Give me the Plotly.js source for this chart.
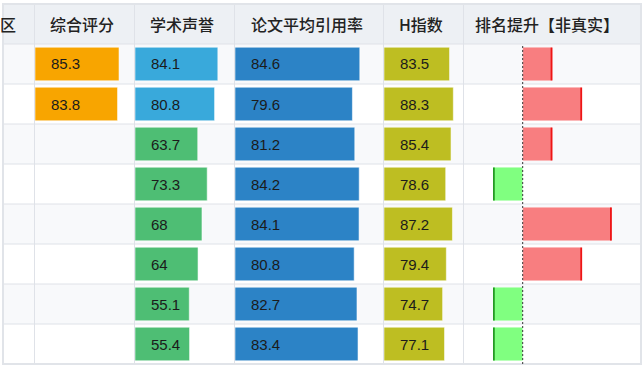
<!DOCTYPE html>
<html>
<head>
<meta charset="utf-8">
<script src="https://cdn.plot.ly/plotly-3.0.1.min.js"></script>
<style>html,body{margin:0;padding:0;background:#fff;}#chart{width:643px;height:369px;}</style>
</head>
<body>
<div id="chart"></div>
<script>
// ---- data ----
const rows = [0, 1, 2, 3, 4, 5, 6, 7];
const headers = ['区', '综合评分', '学术声誉', '论文平均引用率', 'H指数', '排名提升【非真实】'];
const overallScore = [85.3, 83.8, null, null, null, null, null, null];
const reputation = [84.1, 80.8, 63.7, 73.3, 68, 64, 55.1, 55.4];
const citation = [84.6, 79.6, 81.2, 84.2, 84.1, 80.8, 82.7, 83.4];
const hIndex = [83.5, 88.3, 85.4, 78.6, 87.2, 79.4, 74.7, 77.1];
const rankChange = [1, 2, 1, -1, 3, 2, -1, -1];

// ---- layout geometry (pixels) ----
const W = 643, H = 369;
const colEdges = [3, 34, 134, 234, 383, 463, 641];
const headTop = 4, headBot = 44, bodyBot = 364;
const px = v => v / W;
const py = v => 1 - v / H;

const FONT = '"Liberation Sans", Arial, "Noto Sans CJK SC", sans-serif';
const HFONT = '"Noto Sans CJK SC", "Liberation Sans", sans-serif';

const barW = 0.84;
const edgeLine = {color: 'rgba(255,255,255,0.55)', width: 1};

const traces = [];
const annotations = [];

function barColumn(axisIdx, values, colorFn) {
  const xa = 'x' + (axisIdx === 1 ? '' : axisIdx);
  traces.push({
    type: 'bar', orientation: 'h', x: values, y: rows, width: barW,
    xaxis: xa, yaxis: 'y',
    marker: {color: values.map(colorFn), line: edgeLine},
    hoverinfo: 'x', showlegend: false
  });
  values.forEach((v, i) => {
    if (v === null) return;
    annotations.push({
      xref: xa, yref: 'y', x: 0, y: rows[i], xanchor: 'left', yanchor: 'middle',
      xshift: 14, text: String(v), showarrow: false,
      font: {family: FONT, size: 15, color: '#1b1b1b'}
    });
  });
}

barColumn(1, overallScore, () => '#F8A500');
barColumn(2, reputation, v => v >= 75 ? '#39A9DB' : '#4EBE74');
barColumn(3, citation, () => '#2C83C6');
barColumn(4, hIndex, () => '#BEBE22');

// ranking change: diverging bars
traces.push({
  type: 'bar', orientation: 'h', x: rankChange, y: rows, width: barW,
  xaxis: 'x5', yaxis: 'y',
  marker: {color: rankChange.map(v => v >= 0 ? '#F87E80' : '#80FF80'),
           line: {color: 'rgba(255,255,255,0.4)', width: 1}},
  hoverinfo: 'x', showlegend: false
});
const tip = 0.06;
traces.push({
  type: 'bar', orientation: 'h', x: rankChange.map(() => tip),
  base: rankChange.map(v => v >= 0 ? v - tip : v), y: rows, width: barW - 0.02,
  xaxis: 'x5', yaxis: 'y',
  marker: {color: rankChange.map(v => v >= 0 ? '#EE1515' : '#249A24')},
  hoverinfo: 'skip', showlegend: false
});

// ---- table chrome ----
const shapes = [];
const gridCol = '#DFE2E8';
shapes.push({type: 'rect', xref: 'paper', yref: 'paper', layer: 'below',
  x0: px(colEdges[0]), x1: px(colEdges[6]), y0: py(headBot), y1: py(headTop),
  fillcolor: '#EDF0F4', line: {width: 0}});
rows.forEach(i => {
  shapes.push({type: 'rect', xref: 'paper', yref: 'y', layer: 'below',
    x0: px(colEdges[0]), x1: px(colEdges[6]), y0: i - 0.5, y1: i + 0.5,
    fillcolor: i % 2 === 0 ? '#F8F9FB' : '#FFFFFF', line: {width: 0}});
});
// horizontal lines
[headBot].concat(rows.slice(1).map(i => headBot + i * 40)).forEach(yy => {
  shapes.push({type: 'line', xref: 'paper', yref: 'paper', layer: 'below',
    x0: px(colEdges[0]), x1: px(colEdges[6]), y0: py(yy), y1: py(yy),
    line: {color: gridCol, width: 1}});
});
// vertical column lines
colEdges.slice(1, 6).forEach(xx => {
  shapes.push({type: 'line', xref: 'paper', yref: 'paper', layer: 'below',
    x0: px(xx + 0.5), x1: px(xx + 0.5), y0: py(bodyBot), y1: py(headTop),
    line: {color: gridCol, width: 1}});
});
// outer border
shapes.push({type: 'rect', xref: 'paper', yref: 'paper', layer: 'below',
  x0: px(colEdges[0]), x1: px(colEdges[6]), y0: py(bodyBot), y1: py(headTop),
  line: {color: '#E1E4E9', width: 2}});
// zero line of ranking change
shapes.push({type: 'line', xref: 'x5', yref: 'paper', layer: 'above',
  x0: 0, x1: 0, y0: py(bodyBot), y1: py(headBot),
  line: {color: '#333', width: 1, dash: '2px,2px'}});

// header texts
headers.forEach((h, k) => {
  const c = (colEdges[k] + colEdges[k + 1]) / 2;
  const ann = {xref: 'paper', yref: 'paper', y: py((headTop + headBot) / 2), yanchor: 'middle',
    text: h, showarrow: false, font: {family: HFONT, size: 16, color: '#222', weight: 500}};
  if (k === 0) { ann.x = px(18); ann.xanchor = 'right'; }
  else { ann.x = px(c); ann.xanchor = 'center'; ann.xshift = (k === 5 ? -5 : -2); }
  annotations.push(ann);
});

function axis(k, range) {
  return {domain: [px(colEdges[k] + 1), px(colEdges[k + 1] - 0.5)], range: range,
    anchor: 'y', visible: false, showgrid: false, zeroline: false, fixedrange: true};
}
const zeroPx = 522.7, unitPx = 29.7;
const layout = {
  width: W, height: H, margin: {l: 0, r: 0, t: 0, b: 0},
  paper_bgcolor: '#FFFFFF', plot_bgcolor: 'rgba(0,0,0,0)',
  barmode: 'overlay', showlegend: false,
  xaxis: axis(1, [0, 100]),
  xaxis2: axis(2, [0, 100]),
  xaxis3: axis(3, [0, 100]),
  xaxis4: axis(4, [0, 100]),
  xaxis5: Object.assign(axis(5, [0, 1]), {domain: [px(464), px(640)],
    range: [(464 - zeroPx) / unitPx, (640 - zeroPx) / unitPx]}),
  yaxis: {domain: [py(bodyBot), py(headBot)], range: [7.5, -0.5], visible: false,
    showgrid: false, zeroline: false, fixedrange: true},
  shapes: shapes, annotations: annotations
};
Plotly.newPlot('chart', traces, layout, {displayModeBar: false, staticPlot: true});
</script>
</body>
</html>
